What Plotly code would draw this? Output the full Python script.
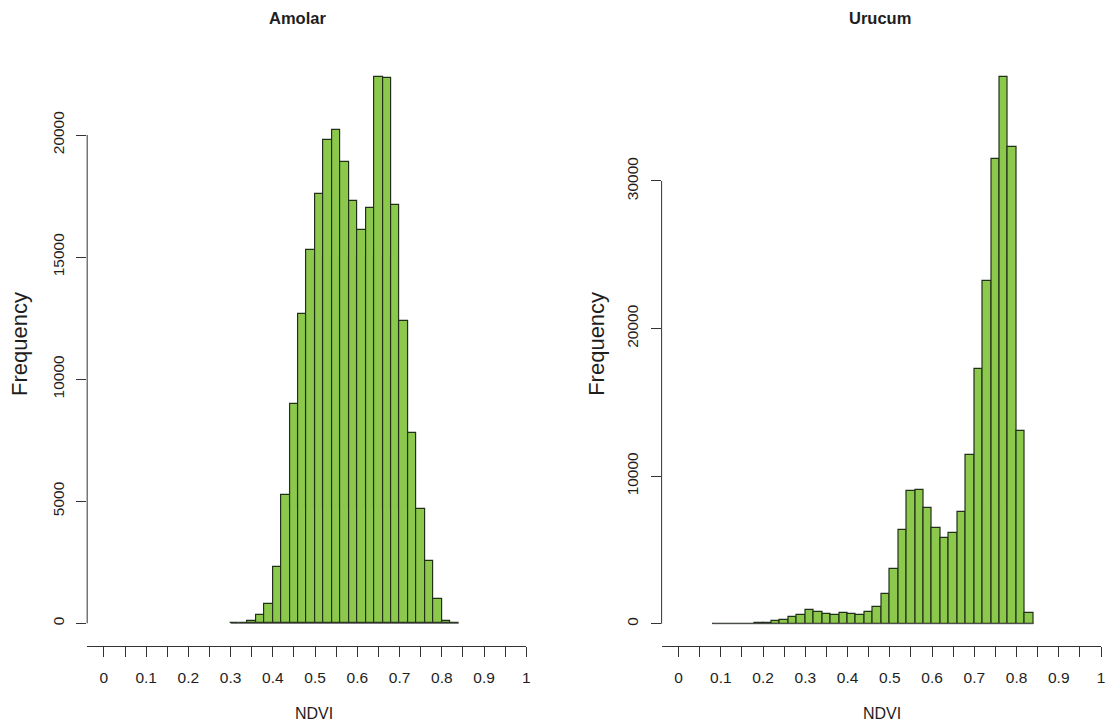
import plotly.graph_objects as go

# NDVI histograms, bin width 0.02
bin_width = 0.02

amolar_first_break = 0.30
amolar_counts = [0, 0, 102, 360, 782, 2326, 5251, 8962, 12656, 15273, 17592, 19787,
                 20197, 18906, 17289, 16109, 17014, 22392, 22347, 17121, 12365,
                 7811, 4673, 2552, 1012, 86, 0]

urucum_first_break = 0.08
urucum_counts = [0, 0, 0, 0, 0, 30, 70, 158, 271, 430, 588, 904, 768, 655, 565, 723,
                 633, 588, 768, 1130, 2011, 3727, 6383, 8992, 9067, 7833, 6458,
                 5780, 6160, 7562, 11445, 17280, 23243, 31463, 37074, 32337,
                 13072, 723]

x_tickvals = [round(i * 0.05, 2) for i in range(21)]
x_ticktext = [("0" if v == 0 else "1" if v == 1 else f"{v:.1f}") if i % 2 == 0 else ""
              for i, v in enumerate(x_tickvals)]
amolar_yticks = [0, 5000, 10000, 15000, 20000]
urucum_yticks = [0, 10000, 20000, 30000]

W, H = 1110, 728
FONT = "Liberation Sans, Arial, Helvetica, sans-serif"
BAR_FILL = "#8cc84b"
BAR_EDGE = "#22301b"
INK = "#1e1e1e"


def px_x(p):
    return p / W


def px_y(p):
    return (H - p) / H


fig = go.Figure()


def add_hist(first_break, counts, xa, ya):
    centers = [first_break + bin_width * (i + 0.5) for i in range(len(counts))]
    last_break = first_break + bin_width * len(counts)
    fig.add_trace(go.Scatter(x=[first_break, last_break], y=[0, 0], mode="lines",
                             line=dict(color="#555555", width=1),
                             xaxis=xa, yaxis=ya, showlegend=False, hoverinfo="skip"))
    fig.add_trace(go.Bar(x=centers, y=counts, width=bin_width,
                         marker=dict(color=BAR_FILL, line=dict(color=BAR_EDGE, width=1.2)),
                         xaxis=xa, yaxis=ya, showlegend=False))


add_hist(amolar_first_break, amolar_counts, "x", "y")
add_hist(urucum_first_break, urucum_counts, "x2", "y2")

ydom = [px_y(645.7), px_y(60)]

xaxis_common = dict(
    showgrid=False, zeroline=False, showline=True, linecolor="#333333", linewidth=1,
    ticks="outside", ticklen=10, tickwidth=1, tickcolor="#333333",
    tickvals=x_tickvals, ticktext=x_ticktext, tickangle=0,
    tickfont=dict(family=FONT, size=15.5, color=INK), ticklabelstandoff=8,
)
yaxis_common = dict(
    showgrid=False, zeroline=False, showline=False,
    ticks="outside", ticklen=10, tickwidth=1, tickcolor="#333333", tickangle=-90,
    tickfont=dict(family=FONT, size=15.5, color=INK), ticklabelstandoff=6,
    domain=ydom,
)

fig.update_layout(
    width=W, height=H, margin=dict(l=0, r=0, t=0, b=0),
    paper_bgcolor="white", plot_bgcolor="white", bargap=0,
    xaxis=dict(domain=[px_x(87.5), px_x(528.2)], range=[(87.5 - 104.3) / 423.9, 1.0],
               anchor="y", **xaxis_common),
    yaxis=dict(range=[(623.3 - 645.7) / 0.024415, (623.3 - 60) / 0.024415],
               tickvals=amolar_yticks, ticktext=[str(v) for v in amolar_yticks],
               anchor="x", **yaxis_common),
    xaxis2=dict(domain=[px_x(664), px_x(1105)], range=[(664 - 681.1) / 424.0, 1.0],
                anchor="y2", **xaxis_common),
    yaxis2=dict(range=[(623.7 - 645.7) / 0.014757, (623.7 - 60) / 0.014757],
                tickvals=urucum_yticks, ticktext=[str(v) for v in urucum_yticks],
                anchor="x2", **yaxis_common),
)

# vertical axis lines spanning only the labelled tick range
fig.add_shape(type="line", xref="x domain", yref="y", x0=0, x1=0,
              y0=amolar_yticks[0], y1=amolar_yticks[-1],
              line=dict(color="#333333", width=1))
fig.add_shape(type="line", xref="x2 domain", yref="y2", x0=0, x1=0,
              y0=urucum_yticks[0], y1=urucum_yticks[-1],
              line=dict(color="#333333", width=1))

annotations = [
    dict(text="<b>Amolar</b>", x=px_x(299), y=px_y(18), size=16.5, angle=0),
    dict(text="<b>Urucum</b>", x=px_x(883), y=px_y(18), size=16.5, angle=0),
    dict(text="Frequency", x=px_x(19), y=px_y(344), size=22, angle=-90),
    dict(text="Frequency", x=px_x(598), y=px_y(344), size=22, angle=-90),
    dict(text="NDVI", x=px_x(315), y=px_y(713), size=16, angle=0),
    dict(text="NDVI", x=px_x(885), y=px_y(713), size=16, angle=0),
]
for a in annotations:
    fig.add_annotation(text=a["text"], x=a["x"], y=a["y"], xref="paper", yref="paper",
                       xanchor="center", yanchor="middle", showarrow=False,
                       textangle=a["angle"],
                       font=dict(family=FONT, size=a["size"], color=INK))

fig.write_html("out.html")
